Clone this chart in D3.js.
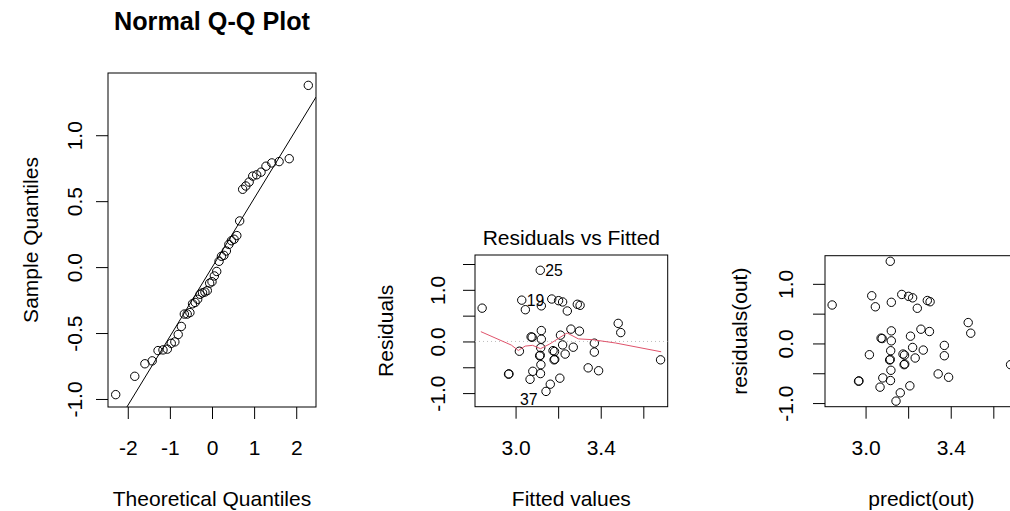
<!DOCTYPE html>
<html>
<head>
<meta charset="utf-8">
<script src="https://cdn.jsdelivr.net/npm/d3@7"></script>
<style>
  body { margin: 0; background: #fff; }
  svg text { font-family: "Liberation Sans", Arial, Helvetica, sans-serif; fill: #000; }
</style>
</head>
<body>
<div id="chart"></div>
<script>
// fitted values and residuals of the model, in observation order
const fitted = [2.843, 3.046, 3.121, 3.170, 3.202, 3.221, 3.243, 3.290, 3.303, 3.482,
  3.494, 3.681, 3.121, 3.073, 3.078, 3.121, 3.211, 3.260, 3.029, 3.300,
  3.221, 3.271, 3.118, 3.018, 3.116, 3.176, 3.183, 3.233, 3.113, 3.116,
  3.181, 3.184, 3.370, 3.370, 3.119, 3.341, 3.143, 3.390, 2.967, 2.969,
  3.081, 3.117, 3.068, 3.208, 3.163];
const resid = [0.645, 0.615, 0.69, 0.822, 0.79, 0.765, 0.59, 0.72, 0.70, 0.35,
  0.172, -0.356, 0.211, 0.089, 0.082, 0.044, 0.122, 0.239, 0.80, 0.20,
  -0.067, -0.111, -0.122, -0.189, 1.378, -0.178, -0.195, -0.244, -0.278, -0.268,
  -0.356, -0.345, -0.033, -0.206, -0.45, -0.511, -0.967, -0.567, -0.633, -0.628,
  -0.578, -0.622, -0.733, -0.711, -0.828];

// observations that carry a label in the residual plot
const idLabels = [25, 19, 37];

// lowess smoother
const smoothX = [2.837, 2.98, 3.013, 3.045, 3.08, 3.117, 3.16, 3.242, 3.295, 3.36, 3.47, 3.684];
const smoothY = [0.19, -0.07, -0.175, -0.09, -0.075, -0.14, -0.05, 0.165, 0.05, 0.035, -0.03, -0.2];

// ticks (labelled ones are a subset, as R drops overlapping labels)
const qqXTicks = [-2, -1, 0, 1, 2];
const qqYTicks = [-1, -0.5, 0, 0.5, 1];
const fitTicks = [3.0, 3.2, 3.4, 3.6];
const fitLabelTicks = [3.0, 3.4];
const resTicksMid = [-1, -0.5, 0, 0.5, 1, 1.5];
const resTicks = [-1, -0.5, 0, 0.5, 1];
const resLabelTicks = [-1, 0, 1];

// inverse normal cdf (Acklam)
function qnorm(p) {
  const a = [-3.969683028665376e+01, 2.209460984245205e+02, -2.759285104469687e+02, 1.383577518672690e+02, -3.066479806614716e+01, 2.506628277459239e+00];
  const b = [-5.447609879822406e+01, 1.615858368580409e+02, -1.556989798598866e+02, 6.680131188771972e+01, -1.328068155288572e+01];
  const c = [-7.784894002430293e-03, -3.223964580411365e-01, -2.400758277161838e+00, -2.549732539343734e+00, 4.374664141464968e+00, 2.938163982698783e+00];
  const d = [7.784695709041462e-03, 3.224671290700398e-01, 2.445134137142996e+00, 3.754408661907416e+00];
  const plow = 0.02425;
  let q, r;
  if (p < plow) {
    q = Math.sqrt(-2 * Math.log(p));
    return (((((c[0] * q + c[1]) * q + c[2]) * q + c[3]) * q + c[4]) * q + c[5]) / ((((d[0] * q + d[1]) * q + d[2]) * q + d[3]) * q + 1);
  }
  if (p > 1 - plow) return -qnorm(1 - p);
  q = p - 0.5; r = q * q;
  return (((((a[0] * r + a[1]) * r + a[2]) * r + a[3]) * r + a[4]) * r + a[5]) * q /
    (((((b[0] * r + b[1]) * r + b[2]) * r + b[3]) * r + b[4]) * r + 1);
}

// R style axis range: data range widened by 4%
function ext(v, f) {
  const [lo, hi] = d3.extent(v);
  const pad = (hi - lo) * (f || 0.04);
  return [lo - pad, hi + pad];
}
const fmt1 = v => v.toFixed(1);

const W = 1010, H = 511;
const svg = d3.select("#chart").append("svg")
  .attr("width", W).attr("height", H)
  .style("display", "block");
svg.append("rect").attr("width", W).attr("height", H).attr("fill", "#fff");

const FS = 21, TICK = 12;

// draws box, ticks and axis titles for one panel
function panel(box, x, y, opt) {
  const g = svg.append("g");
  const clipId = "clip" + opt.id;
  svg.append("clipPath").attr("id", clipId)
    .append("rect")
    .attr("x", box.x0).attr("y", box.y0)
    .attr("width", box.x1 - box.x0).attr("height", box.y1 - box.y0);

  // x axis
  const ax = g.append("g")
    .attr("transform", "translate(0," + box.y1 + ")")
    .style("color", "#000")
    .call(d3.axisBottom(x).tickValues(opt.xTicks).tickSize(TICK).tickPadding(21)
      .tickFormat(v => opt.xLabels.includes(v) ? opt.xFmt(v) : ""));
  ax.select(".domain").remove();
  ax.selectAll("text").attr("font-size", FS).attr("font-family", null);

  // y axis with labels turned parallel to the axis
  const ay = g.append("g")
    .attr("transform", "translate(" + box.x0 + ",0)")
    .style("color", "#000")
    .call(d3.axisLeft(y).tickValues(opt.yTicks).tickSize(TICK)
      .tickFormat(v => opt.yLabels.includes(v) ? fmt1(v) : ""));
  ay.select(".domain").remove();
  ay.selectAll("text")
    .attr("x", null).attr("dy", null)
    .attr("font-size", FS).attr("font-family", null)
    .attr("text-anchor", "middle")
    .attr("transform", "translate(" + (-opt.yLabOff) + ",0) rotate(-90)");

  // frame
  g.append("rect")
    .attr("x", box.x0).attr("y", box.y0)
    .attr("width", box.x1 - box.x0).attr("height", box.y1 - box.y0)
    .attr("fill", "none").attr("stroke", "#000").attr("stroke-width", 1);

  // axis titles
  g.append("text")
    .attr("x", (box.x0 + Math.min(box.x1, opt.xMid || box.x1)) / 2)
    .attr("y", 506)
    .attr("text-anchor", "middle")
    .attr("font-size", FS)
    .text(opt.xTitle);
  g.append("text")
    .attr("transform", "translate(" + opt.yTitleX + "," + ((box.y0 + box.y1) / 2) + ") rotate(-90)")
    .attr("text-anchor", "middle")
    .attr("font-size", FS)
    .text(opt.yTitle);

  return "url(#" + clipId + ")";
}

function drawPoints(xs, ys, x, y) {
  svg.append("g")
    .selectAll("circle")
    .data(xs.map((v, i) => [v, ys[i]]))
    .enter()
    .append("circle")
    .attr("cx", d => x(d[0]))
    .attr("cy", d => y(d[1]))
    .attr("r", 4.2)
    .attr("fill", "none")
    .attr("stroke", "#000")
    .attr("stroke-width", 1);
}

// ---------- Normal Q-Q plot ----------
const n = resid.length;
const sorted = resid.slice().sort(d3.ascending);
const theo = sorted.map((v, i) => qnorm((i + 1 - 0.5) / n));

const qqBox = { x0: 108, x1: 316, y0: 73, y1: 407 };
const xq = d3.scaleLinear().domain(ext(theo)).range([qqBox.x0, qqBox.x1]);
const yq = d3.scaleLinear().domain(ext(resid)).range([qqBox.y1, qqBox.y0]);

const qqClip = panel(qqBox, xq, yq, {
  id: "qq", xTicks: qqXTicks, xLabels: qqXTicks, xFmt: v => String(v),
  yTicks: qqYTicks, yLabels: qqYTicks, yLabOff: 26,
  xTitle: "Theoretical Quantiles", yTitle: "Sample Quantiles", yTitleX: 38
});

svg.append("text")
  .attr("x", (qqBox.x0 + qqBox.x1) / 2).attr("y", 30)
  .attr("text-anchor", "middle")
  .attr("font-size", 25.2).attr("font-weight", "bold")
  .text("Normal Q-Q Plot");

// qqline through the quartiles
const q1 = d3.quantile(resid, 0.25), q3 = d3.quantile(resid, 0.75);
const slope = (q3 - q1) / (qnorm(0.75) - qnorm(0.25));
const icpt = q1 - slope * qnorm(0.25);
const xd = xq.domain();
svg.append("line")
  .attr("clip-path", qqClip)
  .attr("x1", xq(xd[0])).attr("y1", yq(icpt + slope * xd[0]))
  .attr("x2", xq(xd[1])).attr("y2", yq(icpt + slope * xd[1]))
  .attr("stroke", "#000").attr("stroke-width", 1);

drawPoints(theo, sorted, xq, yq);

// ---------- Residuals vs Fitted ----------
const midBox = { x0: 475, x1: 667.7, y0: 255, y1: 406.7 };
const xm = d3.scaleLinear().domain(ext(fitted)).range([midBox.x0, midBox.x1]);
const ym = d3.scaleLinear().domain(ext(ext(resid, 0.08))).range([midBox.y1, midBox.y0]);

const midClip = panel(midBox, xm, ym, {
  id: "mid", xTicks: fitTicks, xLabels: fitLabelTicks, xFmt: fmt1,
  yTicks: resTicksMid, yLabels: resLabelTicks, yLabOff: 30,
  xTitle: "Fitted values", yTitle: "Residuals", yTitleX: 393
});

svg.append("text")
  .attr("x", (midBox.x0 + midBox.x1) / 2).attr("y", 245)
  .attr("text-anchor", "middle")
  .attr("font-size", FS)
  .text("Residuals vs Fitted");

// zero reference line
svg.append("line")
  .attr("clip-path", midClip)
  .attr("x1", midBox.x0).attr("x2", midBox.x1)
  .attr("y1", ym(0)).attr("y2", ym(0))
  .attr("stroke", "#bebebe").attr("stroke-dasharray", "1,3");

drawPoints(fitted, resid, xm, ym);

// smoother
svg.append("path")
  .datum(smoothX.map((v, i) => [v, smoothY[i]]))
  .attr("clip-path", midClip)
  .attr("d", d3.line().x(d => xm(d[0])).y(d => ym(d[1])))
  .attr("fill", "none")
  .attr("stroke", "#DF536B")
  .attr("stroke-width", 1);

// id labels of the extreme residuals
const midX = d3.mean(xm.domain());
svg.append("g")
  .selectAll("text")
  .data(idLabels)
  .enter()
  .append("text")
  .attr("font-size", 15.75)
  .attr("dy", "0.35em")
  .attr("x", id => {
    const px = xm(fitted[id - 1]);
    return resid[id - 1] < 0 ? px - 8.5 : px + 5;
  })
  .attr("y", id => ym(resid[id - 1]) + (resid[id - 1] < 0 ? 8 : 0))
  .attr("text-anchor", id => resid[id - 1] < 0 ? "end" : "start")
  .text(id => id);

// ---------- residuals(out) vs predict(out) ----------
const rBox = { x0: 825, x1: 825 + (midBox.x1 - midBox.x0), y0: 255.7, y1: 406.7 };
const xr = d3.scaleLinear().domain(ext(fitted)).range([rBox.x0, rBox.x1]);
const yr = d3.scaleLinear().domain(ext(resid)).range([rBox.y1, rBox.y0]);

panel(rBox, xr, yr, {
  id: "r", xTicks: fitTicks, xLabels: fitLabelTicks, xFmt: fmt1,
  yTicks: resTicks, yLabels: resLabelTicks, yLabOff: 32,
  xTitle: "predict(out)", yTitle: "residuals(out)", yTitleX: 747
});

drawPoints(fitted, resid, xr, yr);
</script>
</body>
</html>
